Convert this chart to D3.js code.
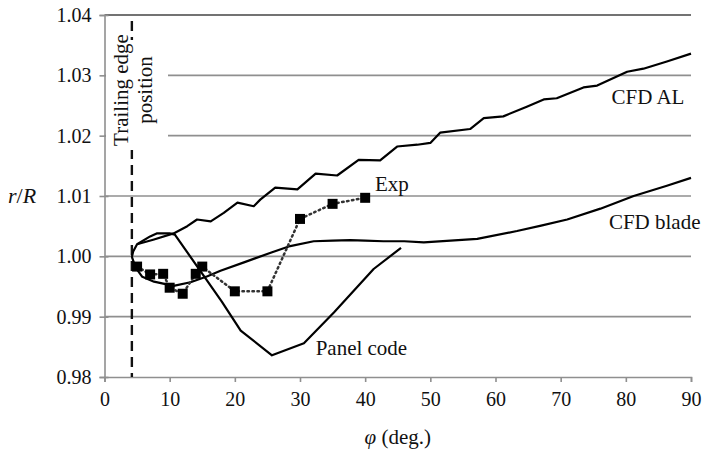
<!DOCTYPE html>
<html>
<head>
<meta charset="utf-8">
<script src="https://cdn.jsdelivr.net/npm/d3@7"></script>
<style>
  body { margin: 0; background: #fff; }
  svg { display: block; }
  svg text { font-family: "Liberation Serif", "Noto Serif", "DejaVu Serif", "Times New Roman", Times, "Nimbus Roman", FreeSerif, serif; }
</style>
</head>
<body>
<div id="chart"></div>
<script>
// values (phi in deg., r/R)
const phiTicks = [0, 10, 20, 30, 40, 50, 60, 70, 80, 90];
const rTicks = [0.98, 0.99, 1.00, 1.01, 1.02, 1.03, 1.04];
const trailingEdge = 4.2;

const alPhi = [4.2, 4.4, 5.0, 7.6, 10.6, 12.7, 14.2, 16.3, 18.3, 20.4, 22.9, 23.9, 26.2, 29.6, 32.4, 35.7, 39.0, 42.3, 44.9, 48.0, 50.0, 51.5, 56.1, 58.2, 61.2, 64.8, 67.4, 69.4, 73.5, 75.6, 80.2, 82.7, 86.3, 90];
const alR = [0.9999, 1.0008, 1.0020, 1.0028, 1.0038, 1.0050, 1.0061, 1.0058, 1.0072, 1.0089, 1.0083, 1.0094, 1.0114, 1.0111, 1.0137, 1.0134, 1.0160, 1.0159, 1.0182, 1.0185, 1.0188, 1.0205, 1.0211, 1.0229, 1.0232, 1.0248, 1.0260, 1.0262, 1.0280, 1.0283, 1.0306, 1.0311, 1.0323, 1.0336];

const bladePhi = [4.2, 4.5, 5.0, 5.8, 7.6, 10.6, 13.2, 15.8, 17.8, 21.4, 25.5, 28.5, 32.1, 35, 37.7, 40, 42.8, 46, 49.0, 53.1, 57.2, 63.3, 67, 71.0, 76.1, 81.2, 86.3, 90];
const bladeR = [0.9999, 0.9990, 0.9978, 0.9966, 0.9958, 0.9951, 0.9957, 0.9967, 0.9976, 0.9990, 1.0006, 1.0017, 1.0025, 1.0026, 1.0027, 1.0026, 1.0025, 1.0025, 1.0023, 1.0026, 1.0029, 1.0042, 1.0051, 1.0061, 1.0079, 1.0100, 1.0117, 1.0130];

const panelPhi = [5.0, 7.0, 8.0, 10.0, 10.8, 18.0, 20.9, 25.7, 30.6, 35.2, 41.3, 45.5];
const panelR = [1.0020, 1.0033, 1.0038, 1.0038, 1.0036, 0.9925, 0.9877, 0.9836, 0.9856, 0.9907, 0.9979, 1.0014];

const expPhi = [5, 7, 9, 10, 12, 14, 15, 20, 25, 30, 35, 40];
const expR = [0.9983, 0.9970, 0.9971, 0.9948, 0.9938, 0.9971, 0.9983, 0.9942, 0.9942, 1.0062, 1.0087, 1.0097];

const W = 702, H = 449;
const margin = {top: 15, right: 11, bottom: 72, left: 104.5};

const svg = d3.select("#chart")
  .append("svg")
  .attr("width", W)
  .attr("height", H);

const x = d3.scaleLinear().domain([0, 90]).range([margin.left, W - margin.right]);
const y = d3.scaleLinear().domain([0.98, 1.04]).range([H - margin.bottom, margin.top]);

// horizontal grid
svg.append("g")
  .selectAll("line")
  .data(rTicks.filter(d => d > 0.98))
  .enter()
  .append("line")
  .attr("x1", x(0)).attr("x2", x(90))
  .attr("y1", d => y(d)).attr("y2", d => y(d))
  .attr("stroke", d => d === 1.04 ? "#444" : "#8f8f8f")
  .attr("stroke-width", 1.6);

// y axis
const yAxis = svg.append("g")
  .attr("transform", `translate(${x(0)},0)`)
  .call(d3.axisLeft(y).tickValues(rTicks).tickFormat(d3.format(".2f")).tickSize(5).tickPadding(8));

// x axis
const xAxis = svg.append("g")
  .attr("transform", `translate(0,${y(0.98)})`)
  .call(d3.axisBottom(x).tickValues(phiTicks).tickSize(5).tickPadding(10));

[yAxis, xAxis].forEach(g => {
  g.attr("font-size", 20);
  g.select(".domain").attr("stroke", "#8f8f8f").attr("stroke-width", 1.6);
  g.selectAll(".tick line").attr("stroke", "#8f8f8f").attr("stroke-width", 1.6);
  g.selectAll(".tick text").attr("fill", "#111");
});
// y ticks cross the axis
yAxis.selectAll(".tick line").attr("x1", 4);

// trailing edge marker
svg.append("line")
  .attr("x1", x(trailingEdge)).attr("x2", x(trailingEdge))
  .attr("y1", y(1.039)).attr("y2", y(0.98))
  .attr("stroke", "#111")
  .attr("stroke-width", 2.4)
  .attr("stroke-dasharray", "10,6");

svg.append("rect")
  .attr("x", x(0) + 1.5).attr("y", 40)
  .attr("width", 62).attr("height", 110)
  .attr("fill", "#fff");

const teText = svg.append("g")
  .attr("font-size", 21)
  .attr("fill", "#111");
teText.append("text")
  .attr("text-anchor", "middle")
  .attr("transform", "translate(128,90) rotate(-90)")
  .text("Trailing edge");
teText.append("text")
  .attr("text-anchor", "middle")
  .attr("transform", "translate(152,90) rotate(-90)")
  .text("position");

const line = d3.line().x(d => x(d[0])).y(d => y(d[1]));

const series = [
  d3.zip(alPhi, alR),
  d3.zip(bladePhi, bladeR),
  d3.zip(panelPhi, panelR)
];

svg.append("g")
  .selectAll("path")
  .data(series)
  .enter()
  .append("path")
  .attr("d", line)
  .attr("fill", "none")
  .attr("stroke", "#000")
  .attr("stroke-width", 2.2)
  .attr("stroke-linejoin", "round");

// experiment
const exp = d3.zip(expPhi, expR);
svg.append("path")
  .attr("d", line(exp))
  .attr("fill", "none")
  .attr("stroke", "#333")
  .attr("stroke-width", 2.5)
  .attr("stroke-dasharray", "1.5,3.5")
  .attr("stroke-linecap", "round");

const sq = 10;
svg.append("g")
  .selectAll("rect")
  .data(exp)
  .enter()
  .append("rect")
  .attr("x", d => x(d[0]) - sq / 2)
  .attr("y", d => y(d[1]) - sq / 2)
  .attr("width", sq)
  .attr("height", sq)
  .attr("fill", "#000");

// curve labels
const labels = svg.append("g")
  .attr("font-size", 21)
  .attr("fill", "#111");
labels.append("text").attr("x", x(77.8)).attr("y", y(1.0253)).text("CFD AL");
labels.append("text").attr("x", x(41.5)).attr("y", y(1.0109)).text("Exp");
labels.append("text").attr("x", x(77.4)).attr("y", y(1.0046)).text("CFD blade");
labels.append("text").attr("x", x(32.4)).attr("y", y(0.9836)).text("Panel code");

// axis titles
const xTitle = svg.append("text")
  .attr("x", x(45))
  .attr("y", 444)
  .attr("text-anchor", "middle")
  .attr("font-size", 21)
  .attr("fill", "#111");
xTitle.append("tspan").attr("font-style", "italic").text("φ");
xTitle.append("tspan").text(" (deg.)");

const yTitle = svg.append("text")
  .attr("x", 8)
  .attr("y", y(1.01) + 7)
  .attr("font-size", 22)
  .attr("fill", "#111");
yTitle.append("tspan").attr("font-style", "italic").text("r");
yTitle.append("tspan").text("/");
yTitle.append("tspan").attr("font-style", "italic").text("R");
</script>
</body>
</html>
